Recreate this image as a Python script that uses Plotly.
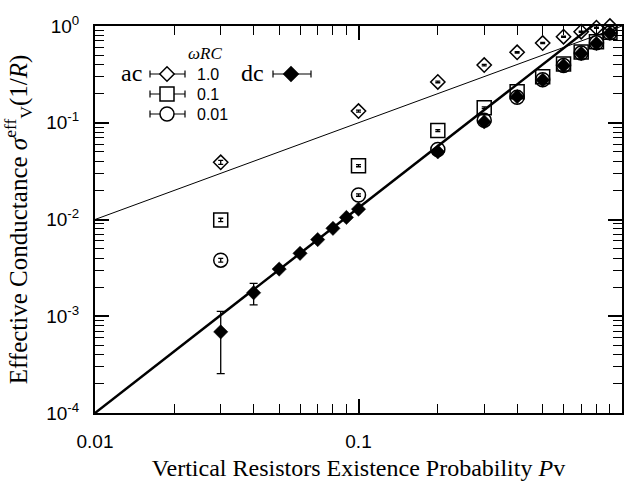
import plotly.graph_objects as go

# ---------------- data ----------------
p_ac = [0.03, 0.1, 0.2, 0.3, 0.4, 0.5, 0.6, 0.7, 0.8, 0.9]
ac_w10 = [0.039, 0.132, 0.264, 0.395, 0.535, 0.667, 0.775, 0.873, 0.96, 1.0]
ac_w10_err = [0.0018, 0.003, 0.005, 0.007, 0.009, 0.01, 0.011, 0.012, 0.012, 0.012]
ac_w01 = [0.0099, 0.036, 0.083, 0.143, 0.209, 0.299, 0.405, 0.54, 0.689, 0.86]
ac_w01_err = [0.0004, 0.0009, 0.0018, 0.003, 0.004, 0.005, 0.006, 0.007, 0.008, 0.01]
ac_w001 = [0.0038, 0.0179, 0.053, 0.106, 0.183, 0.278, 0.39, 0.525, 0.67, 0.85]
ac_w001_err = [0.00017, 0.0005, 0.0012, 0.002, 0.003, 0.004, 0.005, 0.006, 0.007, 0.008]

p_dc = [0.03, 0.04, 0.05, 0.06, 0.07, 0.08, 0.09, 0.1, 0.2, 0.3, 0.4, 0.5, 0.6, 0.7, 0.8, 0.9]
dc = [6.9e-4, 1.75e-3, 3.07e-3, 4.47e-3, 6.2e-3, 8.1e-3, 0.0105, 0.0128,
      0.050, 0.102, 0.186, 0.276, 0.389, 0.52, 0.66, 0.84]
dc_err = [4.35e-4, 4.4e-4, 1.2e-4, 1.5e-4, 1.8e-4, 2e-4, 2.5e-4, 3e-4,
          1e-3, 2e-3, 3e-3, 4e-3, 5e-3, 5e-3, 5e-3, 5e-3]

fit_x = [0.01, 1.0]
fit_thick_y = [1e-4, 1.74]   # dc power-law guide
fit_thin_y = [0.01, 1.0]     # linear guide

legend_labels = ["1.0", "0.1", "0.01"]

x_tickvals = [0.01, 0.1, 1]
x_ticktext = ["0.01", "0.1", "1"]
y_tickvals = [1e-4, 1e-3, 1e-2, 1e-1, 1]
y_ticktext = ["10<sup>-4</sup>", "10<sup>-3</sup>", "10<sup>-2</sup>", "10<sup>-1</sup>", "10<sup>0</sup>"]

SERIF = "Liberation Serif, Times New Roman, serif"
SANS = "Liberation Sans, Arial, Helvetica, sans-serif"

# plot-area geometry (pixels) used for the hand-built legend
W, H = 627, 481
ML, MR, MT, MB = 95, 5, 26, 68
PW, PH = W - ML - MR, H - MT - MB


def px(xp):
    return (xp - ML) / PW


def py(yp):
    return (H - MB - yp) / PH


def minor_vals(lo, hi):
    out = []
    for e in range(lo, hi):
        for k in range(2, 10):
            out.append(k * 10 ** e)
    return out


fig = go.Figure()

# guide lines
fig.add_trace(go.Scatter(x=fit_x, y=fit_thin_y, mode="lines",
                         line=dict(color="black", width=1), showlegend=False, hoverinfo="skip"))
fig.add_trace(go.Scatter(x=fit_x, y=fit_thick_y, mode="lines",
                         line=dict(color="black", width=2.5), showlegend=False, hoverinfo="skip"))

err_style = dict(type="data", color="black", thickness=1.3, width=2.5)

fig.add_trace(go.Scatter(x=p_ac, y=ac_w01, mode="markers", name="ac ωRC=0.1", showlegend=False, cliponaxis=False,
                         marker=dict(symbol="square-open", size=14, color="black", line=dict(width=1.5, color="black")),
                         error_y=dict(array=ac_w01_err, **err_style)))
fig.add_trace(go.Scatter(x=p_ac, y=ac_w001, mode="markers", name="ac ωRC=0.01", showlegend=False, cliponaxis=False,
                         marker=dict(symbol="circle-open", size=14, color="black", line=dict(width=1.5, color="black")),
                         error_y=dict(array=ac_w001_err, **err_style)))
fig.add_trace(go.Scatter(x=p_dc, y=dc, mode="markers", name="dc", showlegend=False, cliponaxis=False,
                         marker=dict(symbol="diamond", size=11, color="black", line=dict(width=0.5, color="black")),
                         error_y=dict(array=dc_err, type="data", color="black", thickness=1.3, width=4)))
fig.add_trace(go.Scatter(x=p_ac, y=ac_w10, mode="markers", name="ac ωRC=1.0", showlegend=False, cliponaxis=False,
                         marker=dict(symbol="diamond-open", size=11, color="black", line=dict(width=1.5, color="black")),
                         error_y=dict(array=ac_w10_err, **err_style)))

axis_common = dict(
    type="log", showgrid=False, zeroline=False,
    showline=True, linecolor="black", linewidth=2, mirror="allticks",
    ticks="inside", ticklen=14, tickwidth=1.5, tickcolor="black",
    tickfont=dict(family=SANS, size=19, color="black"),
    tickmode="array",
)

fig.update_xaxes(**axis_common, range=[-2, 0], tickvals=x_tickvals, ticktext=x_ticktext,
                 minor=dict(ticks="inside", ticklen=9, tickwidth=1.2, tickcolor="black",
                            tickvals=minor_vals(-2, 0), showgrid=False),
                 ticklabelstandoff=10,
                 title=dict(text="Vertical Resistors Existence Probability <i>P</i>v",
                            font=dict(family=SERIF, size=24, color="black"), standoff=14))
fig.update_yaxes(**axis_common, range=[-4, 0], tickvals=y_tickvals, ticktext=y_ticktext,
                 minor=dict(ticks="inside", ticklen=9, tickwidth=1.2, tickcolor="black",
                            tickvals=minor_vals(-4, 0), showgrid=False),
                 ticklabelstandoff=10,
                 title=dict(text="Effective Conductance <i>σ</i><sup>eff</sup><sub>V</sub>(1/<i>R</i>)",
                            font=dict(family=SERIF, size=25, color="black"), standoff=12))

# ---------------- hand-built legend ----------------
shapes = []
annotations = []
rows_y = [74, 94, 114]
sym_kinds = ["diamond", "square", "circle"]
LINE = dict(color="black", width=1.2)


def legend_symbol(cx, cy, kind, x_left, x_right, filled=False):
    shapes.append(dict(type="line", xref="paper", yref="paper", x0=px(x_left), x1=px(x_right),
                       y0=py(cy), y1=py(cy), line=LINE))
    for xe in (x_left, x_right):
        shapes.append(dict(type="line", xref="paper", yref="paper", x0=px(xe), x1=px(xe),
                           y0=py(cy - 3.5), y1=py(cy + 3.5), line=LINE))
    common = dict(xref="paper", yref="paper", xsizemode="pixel", ysizemode="pixel",
                  xanchor=px(cx), yanchor=py(cy),
                  fillcolor="black" if filled else "white",
                  line=dict(color="black", width=1.5))
    if kind == "diamond":
        shapes.append(dict(type="path", path="M -7.2 0 L 0 7.2 L 7.2 0 L 0 -7.2 Z", **common))
    elif kind == "square":
        shapes.append(dict(type="rect", x0=-7, x1=7, y0=-7, y1=7, **common))
    else:
        shapes.append(dict(type="circle", x0=-7, x1=7, y0=-7, y1=7, **common))


for lab, ry, kind in zip(legend_labels, rows_y, sym_kinds):
    legend_symbol(167, ry, kind, 150, 185)
    annotations.append(dict(text=lab, xref="paper", yref="paper", x=px(195), y=py(ry),
                            xanchor="left", yanchor="middle", showarrow=False,
                            font=dict(family=SANS, size=16, color="black")))
legend_symbol(291, rows_y[0], "diamond", 273, 311, filled=True)

annotations += [
    dict(text="ac", xref="paper", yref="paper", x=px(131), y=py(rows_y[0] - 1),
         xanchor="center", yanchor="middle", showarrow=False,
         font=dict(family=SERIF, size=24, color="black")),
    dict(text="dc", xref="paper", yref="paper", x=px(252), y=py(rows_y[0] - 1),
         xanchor="center", yanchor="middle", showarrow=False,
         font=dict(family=SERIF, size=24, color="black")),
    dict(text="<i>ωRC</i>", xref="paper", yref="paper", x=px(205), y=py(53),
         xanchor="center", yanchor="middle", showarrow=False,
         font=dict(family=SERIF, size=17, color="black")),
]

fig.update_layout(
    width=W, height=H,
    margin=dict(l=ML, r=MR, t=MT, b=MB, autoexpand=False),
    paper_bgcolor="white", plot_bgcolor="white",
    showlegend=False,
    shapes=shapes,
    annotations=annotations,
)

fig.write_html("out.html")
